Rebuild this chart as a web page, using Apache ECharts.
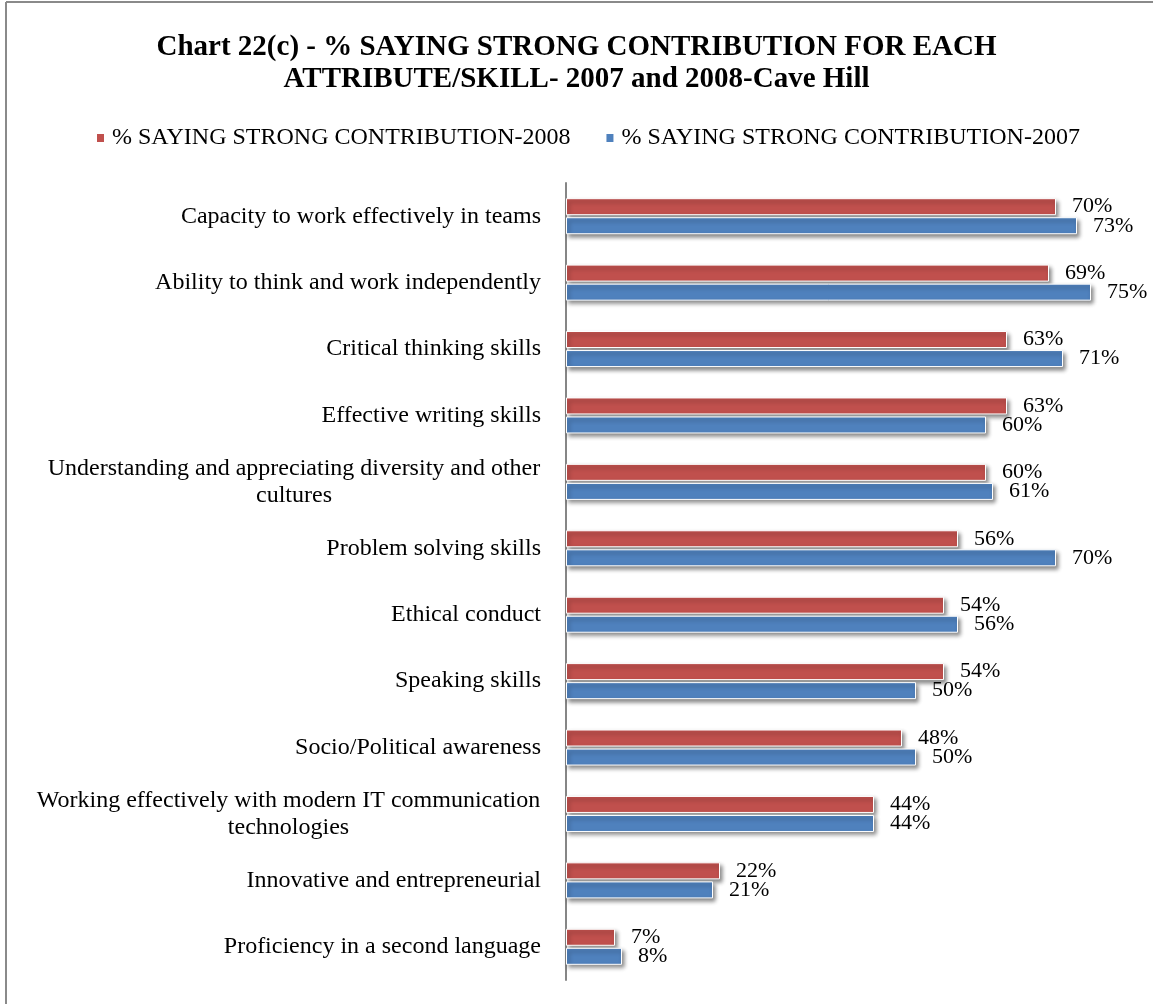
<!DOCTYPE html>
<html>
<head>
<meta charset="utf-8">
<script src="https://cdn.jsdelivr.net/npm/echarts@6/dist/echarts.min.js"></script>
<style>
html,body{margin:0;padding:0;background:#fff;}
#chart{width:1153px;height:1004px;}
</style>
</head>
<body>
<div id="chart"></div>
<script>
const categories = [
  'Capacity to work effectively in teams',
  'Ability to think and work independently',
  'Critical thinking skills',
  'Effective writing skills',
  'Understanding and appreciating diversity and other\ncultures',
  'Problem solving skills',
  'Ethical conduct',
  'Speaking skills',
  'Socio/Political awareness',
  'Working effectively with modern IT communication\ntechnologies',
  'Innovative and entrepreneurial',
  'Proficiency in a second language'
];
const values2008 = [70, 69, 63, 63, 60, 56, 54, 54, 48, 44, 22, 7];
const values2007 = [73, 75, 71, 60, 61, 70, 56, 50, 50, 44, 21, 8];
const seriesNames = ['% SAYING STRONG CONTRIBUTION-2008', '% SAYING STRONG CONTRIBUTION-2007'];
const titleText = 'Chart 22(c) - % SAYING STRONG CONTRIBUTION FOR EACH\nATTRIBUTE/SKILL- 2007 and 2008-Cave Hill';

const serif = '"Liberation Serif", "Times New Roman", serif';
const catFontSize = 24;
const valFontSize = 22;

// measure widths for centered multi-line labels
const cvs = document.createElement('canvas').getContext('2d');
cvs.font = catFontSize + 'px ' + serif;
const rich = {};
categories.forEach((c, i) => {
  const lines = c.split('\n');
  if (lines.length > 1) {
    const w = Math.max(...lines.map(l => cvs.measureText(l).width));
    rich['m' + i] = {width: Math.ceil(w) + 1, align: 'center', fontFamily: serif, fontSize: catFontSize, color: '#000', lineHeight: 27};
  }
});

const chart = echarts.init(document.getElementById('chart'));
const shadow = {
  borderColor: '#ffffff',
  borderWidth: 1,
  shadowColor: 'rgba(0,0,0,0.45)',
  shadowBlur: 4,
  shadowOffsetX: 2,
  shadowOffsetY: 3
};
const barLabel = {
  show: true,
  position: 'right',
  distance: 16,
  formatter: '{c}%',
  color: '#000',
  fontFamily: serif,
  fontSize: valFontSize
};
chart.setOption({
  animation: false,
  backgroundColor: '#ffffff',
  title: {
    text: titleText,
    left: 'center',
    top: 27,
    textStyle: {fontFamily: serif, fontWeight: 'bold', fontSize: 29, lineHeight: 32, color: '#000'}
  },
  legend: {
    top: 121,
    left: 90,
    itemGap: 34,
    itemWidth: 9,
    itemHeight: 10,
    icon: 'rect',
    data: seriesNames,
    textStyle: {fontFamily: serif, fontSize: 24, color: '#000', padding: [0, 0, 0, 2]}
  },
  graphic: [
    {type: 'line', shape: {x1: 6, y1: 2, x2: 1153, y2: 2}, style: {stroke: '#8a8a8a', lineWidth: 2}, silent: true},
    {type: 'line', shape: {x1: 6, y1: 2, x2: 6, y2: 1004}, style: {stroke: '#8a8a8a', lineWidth: 2}, silent: true}
  ],
  grid: {left: 566, right: 27, top: 183, bottom: 24, containLabel: false},
  xAxis: {
    type: 'value',
    min: 0,
    max: 80,
    show: false
  },
  yAxis: {
    type: 'category',
    inverse: true,
    data: categories,
    axisLine: {show: true, lineStyle: {color: '#868686', width: 2}},
    axisTick: {show: false},
    axisLabel: {
      margin: 25,
      color: '#000',
      fontFamily: serif,
      fontSize: catFontSize,
      lineHeight: 27,
      formatter: function (v, i) {
        const lines = v.split('\n');
        if (lines.length > 1) return lines.map(l => '{m' + i + '|' + l + '}').join('\n');
        return v;
      },
      rich: rich
    }
  },
  series: [
    {
      name: seriesNames[0], type: 'bar', data: values2008,
      barWidth: 17, barGap: '12%', barCategoryGap: '46%',
      itemStyle: Object.assign({color: '#C0504D'}, shadow),
      label: barLabel
    },
    {
      name: seriesNames[1], type: 'bar', data: values2007,
      barWidth: 17, barGap: '12%',
      itemStyle: Object.assign({color: '#4F81BD'}, shadow),
      label: barLabel
    }
  ]
});
</script>
</body>
</html>
